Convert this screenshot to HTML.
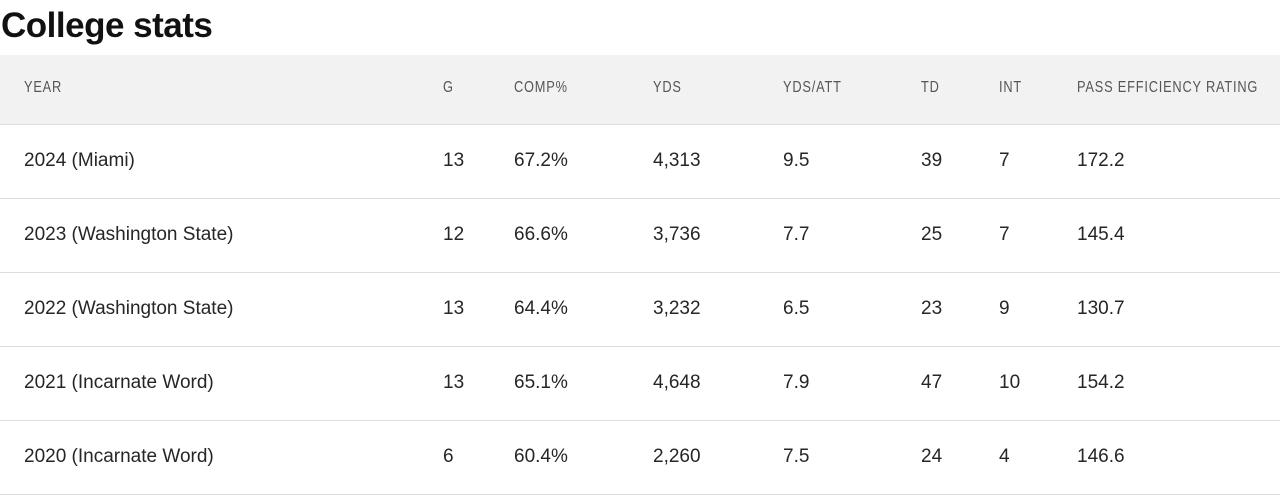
<!DOCTYPE html>
<html><head><meta charset="utf-8">
<style>
body{margin:0;width:1280px;height:497px;background:#fff;font-family:"Liberation Sans",sans-serif;position:relative;overflow:hidden}
h1{position:absolute;left:1px;top:6px;margin:0;font-size:35px;font-weight:bold;color:#111;letter-spacing:-0.5px}
.hdr{position:absolute;left:0;top:55px;width:1280px;height:69px;background:#f2f2f2;border-bottom:1px solid #ddd}
.row{position:absolute;left:0;width:1280px;height:73px;border-bottom:1px solid #ddd}
.c{position:absolute;white-space:nowrap}
.hdr .c{top:24px;font-size:16px;color:#555;letter-spacing:1px;transform:scaleX(0.8);transform-origin:left}
.row .c{top:25px;font-size:19px;color:#262626;font-weight:400}
</style></head><body>
<h1>College stats</h1>
<div class="hdr" id="hdr"></div>
<div id="rows"></div>
<script>
const xs=[24,443,514,653,783,921,999,1077];
const headers=["YEAR","G","COMP%","YDS","YDS/ATT","TD","INT","PASS EFFICIENCY RATING"];
const seasons=["2024 (Miami)","2023 (Washington State)","2022 (Washington State)","2021 (Incarnate Word)","2020 (Incarnate Word)"];
const games=["13","12","13","13","6"];
const comp=["67.2%","66.6%","64.4%","65.1%","60.4%"];
const yds=["4,313","3,736","3,232","4,648","2,260"];
const ypa=["9.5","7.7","6.5","7.9","7.5"];
const td=["39","25","23","47","24"];
const ints=["7","7","9","10","4"];
const rating=["172.2","145.4","130.7","154.2","146.6"];
const hdr=document.getElementById('hdr');
headers.forEach((h,i)=>{const d=document.createElement('div');d.className='c';d.style.left=xs[i]+'px';d.textContent=h;


hdr.appendChild(d);});
const cols=[seasons,games,comp,yds,ypa,td,ints,rating];
seasons.forEach((s,r)=>{const row=document.createElement('div');row.className='row';row.style.top=(125+r*74)+'px';


cols.forEach((col,i)=>{const d=document.createElement('div');d.className='c';d.style.left=xs[i]+'px';d.textContent=col[r];


row.appendChild(d);});
document.body.appendChild(row);});
</script>
</body></html>
